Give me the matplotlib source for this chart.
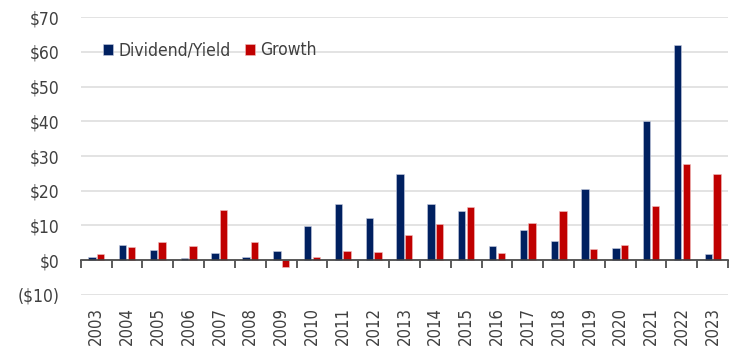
import matplotlib.pyplot as plt
import numpy as np
from matplotlib.ticker import FixedLocator, FuncFormatter

years = [str(y) for y in range(2003, 2024)]
dividend_yield = [0.9, 4.2, 2.8, 0.6, 2.0, 0.8, 2.5, 9.9, 16.1, 12.1, 24.8,
                  16.3, 14.2, 4.0, 8.6, 5.4, 20.4, 3.4, 40.0, 62.0, 1.7]
growth = [1.8, 3.7, 5.1, 4.1, 14.4, 5.3, -2.1, 0.9, 2.6, 2.2, 7.1,
          10.4, 15.3, 1.9, 10.6, 14.1, 3.1, 4.2, 15.7, 27.8, 24.8]

navy = "#002060"
red = "#c00000"
text_color = "#404040"

plt.rcParams["font.family"] = ["DejaVu Sans"]
plt.rcParams["font.stretch"] = "condensed"


def money(v, _pos=None):
	if v < 0:
		return f"(${abs(v):.0f})"
	return f"${v:.0f}"


fig = plt.figure(figsize=(7.34, 3.49), dpi=100)
ax = fig.add_axes([0.110, 0.1556, 0.882, 0.7948])

x = np.arange(len(years))
w = 0.24
off = 0.14
ax.bar(x - off, dividend_yield, w, color=navy, edgecolor="#c8cde0", linewidth=0.4, label="Dividend/Yield", zorder=3)
ax.bar(x + off, growth, w, color=red, edgecolor="#f0c0c0", linewidth=0.4, label="Growth", zorder=3)

ax.set_xlim(-0.5, len(years) - 0.5)
ax.set_ylim(-10, 70)
ax.set_yticks(range(-10, 71, 10))
ax.yaxis.set_major_formatter(FuncFormatter(money))
ax.grid(axis="y", color="#dedede", linewidth=1.2, zorder=0)

for side in ["top", "right", "left"]:
	ax.spines[side].set_visible(False)
ax.spines["bottom"].set_position(("data", 0))
ax.spines["bottom"].set_color("#404040")
ax.spines["bottom"].set_linewidth(1.2)
ax.spines["bottom"].set_zorder(4)

# boundary ticks on the zero line, year labels under the plot
ax.xaxis.set_major_locator(FixedLocator(np.arange(-0.5, len(years), 1.0)))
ax.xaxis.set_minor_locator(FixedLocator(x))
ax.set_xticklabels([], minor=False)
ax.set_xticklabels(years, minor=True, rotation=90, fontsize=12, color=text_color)
ax.tick_params(axis="x", which="major", direction="out", length=6, width=1.2, color="#404040")
ax.tick_params(axis="x", which="minor", length=0, pad=34)
ax.tick_params(axis="y", length=0, labelsize=12.5, labelcolor=text_color, pad=15.5)

leg = ax.legend(loc="upper left", bbox_to_anchor=(0.01, 0.97), ncol=2, frameon=False,
                fontsize=12.5, handlelength=0.6, handleheight=0.6, handletextpad=0.3,
                columnspacing=0.8, labelcolor=text_color)

fig.savefig("out.png", dpi=100)
